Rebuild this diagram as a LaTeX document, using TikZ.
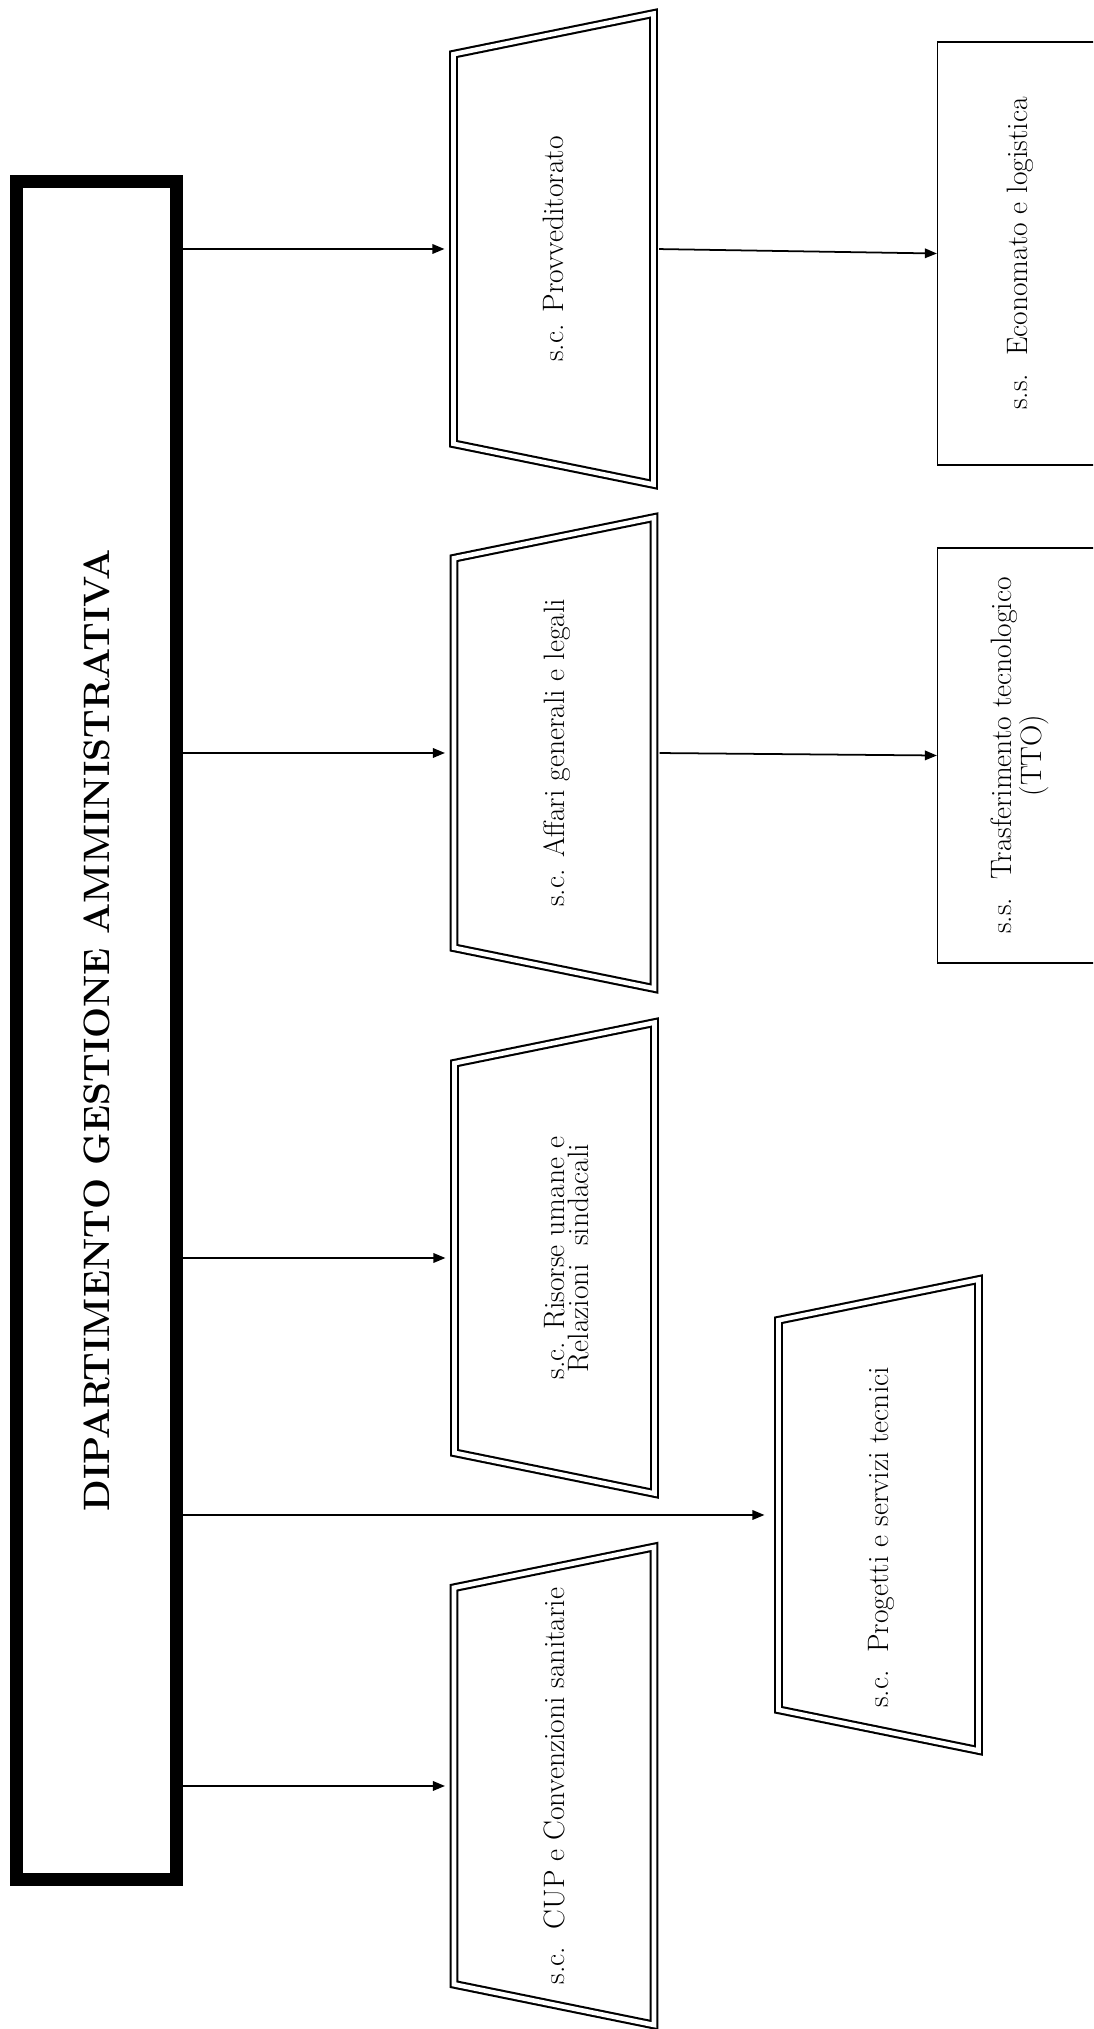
\documentclass[tikz,border=0pt]{standalone}
\usepackage{fontspec}
\usepackage{tikz}
\usetikzlibrary{arrows.meta,shapes.geometric}

\tikzset{
    dipartimento/.style={rectangle, rotate=90, draw, line width=7.4pt, minimum width=33.96cm, minimum height=3.2cm, font=\fontsize{20.9}{25}\selectfont\bfseries},
    strutturac/.style={trapezium, rotate=90, draw, double, double distance=2.6pt, line width=1.2pt, trapezium left angle=78.5, trapezium right angle=78.5, trapezium stretches body=true, minimum width=9.42cm, text height=2.2cm, text depth=1.8cm, inner xsep=0pt, inner ysep=0pt, align=center, font=\fontsize{16.8}{14}\selectfont},
    strutturas/.style={rectangle, rotate=90, draw, line width=0.7pt, minimum height=3.3cm, align=center, font=\fontsize{16.8}{14}\selectfont},
    freccia/.style={line width=1pt, -{Triangle[length=2.4mm,width=1.9mm]}}
}

\begin{document}
\begin{tikzpicture}[x=0.02cm, y=-0.02cm]
                    \useasboundingbox (0,0) rectangle (1093,2029);
                    \clip (0,0) rectangle (1093,2029);
%                    dipartimento
                    \node[dipartimento] (dip) at (96.5,1030.5) {DIPARTIMENTO GESTIONE AMMINISTRATIVA};

%                    strutture complesse
                    \node[strutturac] (prov) at (553.5,249) {s.c. Provveditorato};
                    \node[strutturac] (aff) at (554,753) {s.c. Affari generali e legali};
                    \node[strutturac, text height=2.685cm, text depth=1.315cm] (ris) at (554.5,1258) {s.c. Risorse umane e\\Relazioni\ \ sindacali};
                    \node[strutturac] (prog) at (878.5,1515) {s.c.\ \ Progetti e servizi tecnici\hspace*{0.9cm}};
                    \node[strutturac] (cup) at (554,1786) {s.c.\ \ CUP e Convenzioni sanitarie};

%                    strutture semplici
                    \node[strutturas, minimum width=8.46cm] (econ) at (1020,253.5) {s.s.\ \ Economato e logistica};
                    \node[strutturas, minimum width=8.3cm] (tto) at (1020,755.5) {s.s.\ \ Trasferimento tecnologico\\(TTO)};

                    \draw[freccia, shorten >=1.6mm] (dip.south |- prov.north) -- (prov.north);
                    \draw[freccia, shorten >=1.6mm] (dip.south |- aff.north) -- (aff.north);
                    \draw[freccia, shorten >=1.6mm] (dip.south |- ris.north) -- (ris.north);
                    \draw[freccia, shorten >=2.6mm] (dip.south |- prog.north) -- (prog.north);
                    \draw[freccia, shorten >=1.6mm] (dip.south |- cup.north) -- (cup.north);
                    \draw[freccia, shorten <=0.9mm] (prov.south) -- (econ.north);
                    \draw[freccia, shorten <=0.9mm] (aff.south) -- (tto.north);

\end{tikzpicture}
\end{document}
